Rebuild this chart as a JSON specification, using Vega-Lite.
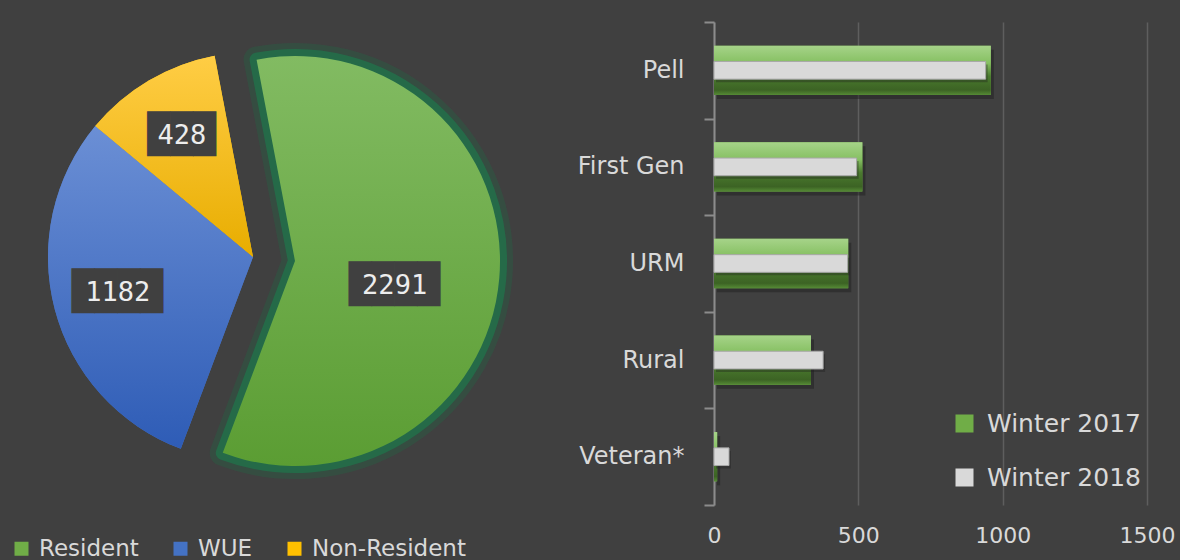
{
  "$schema": "https://vega.github.io/schema/vega-lite/v6.json",
  "background": "#404040",
  "padding": {"left": 5, "top": 10, "right": 5, "bottom": 0},
  "bounds": "flush",
  "spacing": 213,
  "config": {"view": {"stroke": null}, "font": "DejaVu Sans"},
  "datasets": {
    "pie": [
      {"category": "Resident", "count": 2291, "ord": 1},
      {"category": "WUE", "count": 1182, "ord": 2},
      {"category": "Non-Resident", "count": 428, "ord": 3}
    ],
    "bars": [
      {"group": "Pell", "series": "Winter 2017", "value": 959},
      {"group": "Pell", "series": "Winter 2018", "value": 941},
      {"group": "First Gen", "series": "Winter 2017", "value": 514},
      {"group": "First Gen", "series": "Winter 2018", "value": 494},
      {"group": "URM", "series": "Winter 2017", "value": 465},
      {"group": "URM", "series": "Winter 2018", "value": 463},
      {"group": "Rural", "series": "Winter 2017", "value": 336},
      {"group": "Rural", "series": "Winter 2018", "value": 378},
      {"group": "Veteran*", "series": "Winter 2017", "value": 11},
      {"group": "Veteran*", "series": "Winter 2018", "value": 52}
    ]
  },
  "resolve": {"scale": {"color": "independent"}, "legend": {"color": "independent"}},
  "hconcat": [
    {
      "width": 496,
      "height": 470,
      "data": {"name": "pie"},
      "encoding": {
        "theta": {"field": "count", "type": "quantitative", "stack": true, "scale": {"range": [-0.1885, 6.0947]}},
        "order": {"field": "ord", "type": "quantitative"}
      },
      "layer": [
        {
          "mark": {"type": "arc", "radius": 205},
          "encoding": {
            "color": {
              "field": "category", "type": "nominal",
              "scale": {"domain": ["Resident", "WUE", "Non-Resident"], "range": ["#70ad47", "#4472c4", "#ffc000"]},
              "legend": {"title": null, "orient": "none", "legendX": 5, "legendY": 515, "direction": "horizontal", "symbolType": "square", "symbolSize": 196, "symbolStrokeWidth": 0, "labelFontSize": 23, "labelColor": "#d9d9d9", "columnPadding": 30, "labelOffset": 6}
            },
            "opacity": {"condition": {"test": "datum.category === 'Resident'", "value": 0}, "value": 1}
          }
        },
        {
          "mark": {"type": "arc", "radius": 205},
          "encoding": {
            "color": {
              "condition": [
                {"test": "datum.category === 'WUE'", "value": {"gradient": "linear", "x1": 0, "y1": 0, "x2": 0, "y2": 1, "stops": [{"offset": 0, "color": "#6b8fd5"}, {"offset": 1, "color": "#2e5cb6"}]}}
              ],
              "value": {"gradient": "linear", "x1": 0, "y1": 0, "x2": 0, "y2": 1, "stops": [{"offset": 0, "color": "#ffcd45"}, {"offset": 1, "color": "#e8ad00"}]}
            },
            "opacity": {"condition": {"test": "datum.category === 'Resident'", "value": 0}, "value": 1}
          }
        },
        {
          "mark": {"type": "arc", "radius": 205, "xOffset": 42, "yOffset": 4, "fill": "#1f6e45", "stroke": "#1f6e45", "strokeWidth": 26, "strokeOpacity": 0.3, "strokeJoin": "round"},
          "encoding": {"opacity": {"condition": {"test": "datum.category === 'Resident'", "value": 1}, "value": 0}}
        },
        {
          "mark": {"type": "arc", "radius": 205, "xOffset": 42, "yOffset": 4, "fill": "#1f6e45", "stroke": "#22704a", "strokeWidth": 14, "strokeOpacity": 0.85, "strokeJoin": "round"},
          "encoding": {"opacity": {"condition": {"test": "datum.category === 'Resident'", "value": 1}, "value": 0}}
        },
        {
          "mark": {"type": "arc", "radius": 205, "xOffset": 42, "yOffset": 4, "color": {"gradient": "linear", "x1": 0, "y1": 0, "x2": 0, "y2": 1, "stops": [{"offset": 0, "color": "#82bb62"}, {"offset": 1, "color": "#5b9d33"}]}},
          "encoding": {"opacity": {"condition": {"test": "datum.category === 'Resident'", "value": 1}, "value": 0}}
        },
        {
          "mark": {"type": "text", "radius": 140, "font": "DejaVu Sans Mono", "fontSize": 38, "color": "#404040", "baseline": "middle", "align": "center"},
          "encoding": {
            "text": {"condition": {"test": "datum.count >= 1000", "value": "████"}, "value": "███"},
            "opacity": {"condition": {"test": "datum.category === 'Resident'", "value": 0}, "value": 1}
          }
        },
        {
          "mark": {"type": "text", "radius": 140, "font": "DejaVu Sans Mono", "fontSize": 27, "color": "#ededed", "baseline": "middle", "align": "center"},
          "encoding": {
            "text": {"field": "count", "type": "quantitative", "format": "d"},
            "opacity": {"condition": {"test": "datum.category === 'Resident'", "value": 0}, "value": 1}
          }
        },
        {
          "mark": {"type": "text", "radius": 100, "xOffset": 42, "yOffset": 20, "font": "DejaVu Sans Mono", "fontSize": 38, "color": "#404040", "baseline": "middle", "align": "center"},
          "encoding": {
            "text": {"condition": {"test": "datum.count >= 1000", "value": "████"}, "value": "███"},
            "opacity": {"condition": {"test": "datum.category === 'Resident'", "value": 1}, "value": 0}
          }
        },
        {
          "mark": {"type": "text", "radius": 100, "xOffset": 42, "yOffset": 20, "font": "DejaVu Sans Mono", "fontSize": 27, "color": "#ededed", "baseline": "middle", "align": "center"},
          "encoding": {
            "text": {"field": "count", "type": "quantitative", "format": "d"},
            "opacity": {"condition": {"test": "datum.category === 'Resident'", "value": 1}, "value": 0}
          }
        }
      ]
    },
    {
      "width": 433,
      "height": 483,
      "data": {"name": "bars"},
      "encoding": {
        "y": {
          "field": "group", "type": "nominal",
          "sort": ["Pell", "First Gen", "URM", "Rural", "Veteran*"],
          "scale": {"paddingInner": 0, "paddingOuter": 0},
          "axis": {"title": null, "labelColor": "#d9d9d9", "labelFontSize": 24, "labelPadding": 20, "tickSize": 10, "tickColor": "#8c8c8c", "tickWidth": 2, "domainColor": "#8c8c8c", "domainWidth": 2, "tickBand": "extent", "minExtent": 134, "maxExtent": 134, "grid": false}
        },
        "x": {
          "field": "value", "type": "quantitative",
          "scale": {"domain": [0, 1500]},
          "axis": {"title": null, "values": [0, 500, 1000, 1500], "format": "d", "labelColor": "#d9d9d9", "labelFontSize": 22, "labelPadding": 20, "ticks": false, "domain": false, "grid": true, "gridColor": "#5e5e5e", "gridWidth": 1.5, "labelFlush": false}
        }
      },
      "layer": [
        {
          "transform": [{"filter": "datum.series === 'Winter 2017'"}],
          "mark": {"type": "bar", "height": {"band": 0.51}, "color": "#1c1c1c", "opacity": 0.45, "xOffset": 3, "yOffset": 4}
        },
        {
          "transform": [{"filter": "datum.series === 'Winter 2017'"}],
          "mark": {"type": "bar", "height": {"band": 0.51}},
          "encoding": {
            "color": {
              "field": "series", "type": "nominal",
              "scale": {"domain": ["Winter 2017", "Winter 2018"], "range": ["#70ad47", "#d9d9d9"]},
              "legend": {"title": null, "orient": "none", "legendX": 238, "legendY": 389, "direction": "vertical", "symbolType": "square", "symbolSize": 324, "symbolStrokeWidth": 0, "labelFontSize": 25, "labelColor": "#d9d9d9", "rowPadding": 28, "labelOffset": 10}
            }
          }
        },
        {
          "transform": [{"filter": "datum.series === 'Winter 2017'"}],
          "mark": {"type": "bar", "height": {"band": 0.51}, "color": {"gradient": "linear", "x1": 0, "y1": 0, "x2": 0, "y2": 1, "stops": [{"offset": 0, "color": "#a6d389"}, {"offset": 0.35, "color": "#86c062"}, {"offset": 0.62, "color": "#4a7a2e"}, {"offset": 0.9, "color": "#3c6324"}, {"offset": 1, "color": "#558a35"}]}}
        },
        {
          "transform": [{"filter": "datum.series === 'Winter 2018'"}],
          "mark": {"type": "bar", "height": {"band": 0.183}, "color": "#1c1c1c", "opacity": 0.35, "xOffset": 2, "yOffset": 3}
        },
        {
          "transform": [{"filter": "datum.series === 'Winter 2018'"}],
          "mark": {"type": "bar", "height": {"band": 0.183}, "stroke": "#a8a8a8", "strokeWidth": 1},
          "encoding": {
            "color": {"field": "series", "type": "nominal"}
          }
        }
      ]
    }
  ]
}
